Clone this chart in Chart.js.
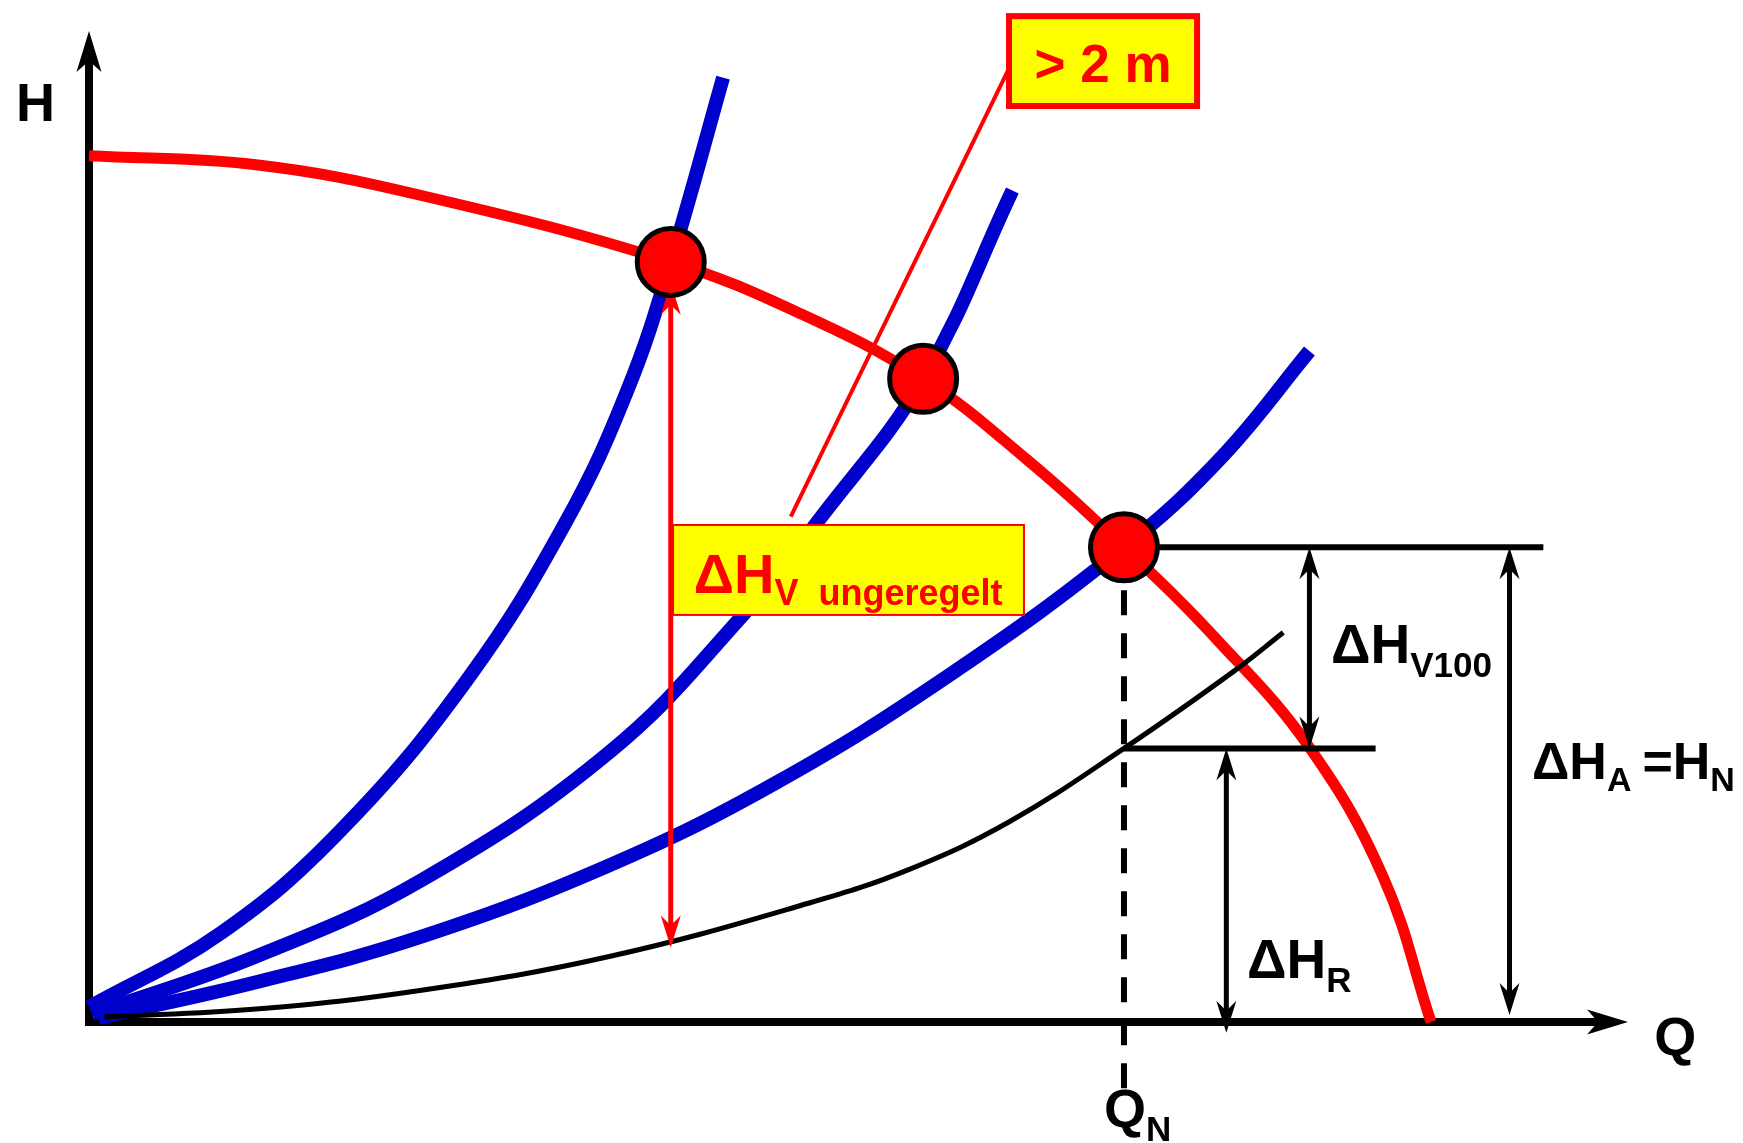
<!DOCTYPE html>
<html lang="de">
<head>
    <meta charset="UTF-8">
    <title>Pumpenkennlinie und Anlagenkennlinien</title>
    <style>
        html, body {
            margin: 0;
            padding: 0;
            background: #ffffff;
        }

        #wrap {
            width: 1743px;
            height: 1143px;
        }
    </style>
</head>
<body>
    <div id="wrap"><canvas id="kennlinien" width="1743" height="1143"></canvas></div>

    <script src="https://cdn.jsdelivr.net/npm/chart.js"></script>
    <script>
        // Pumpenkennlinie H(Q)
        var pumpeQ = [0, 10.85, 21.6, 37.8, 46.2, 54.2, 60.9, 67.25, 73.4, 79.3, 84.1, 87.2];
        var pumpeH = [87.4, 86.5, 83.4, 76.7, 71.5, 64.9, 56.8, 47.9, 38.4, 27.7, 14.6, 0];

        // Anlagenkennlinien (gedrosselt, teilweise gedrosselt, offen)
        var anlage1Q = [0, 8.6, 16.4, 24.6, 31.0, 35.0, 37.8, 41.2];
        var anlage1H = [1.5, 9.0, 19.4, 34.6, 50.5, 63.8, 76.7, 95.3];
        var anlage2Q = [0.2, 10.85, 21.6, 33.8, 42.4, 47.6, 54.2, 60.0];
        var anlage2H = [0.8, 6.6, 14.3, 27.2, 40.9, 51.0, 64.9, 83.9];
        var anlage3Q = [0.6, 10.85, 21.6, 33.8, 44.6, 55.9, 67.25, 73.6, 79.3];
        var anlage3H = [0.4, 4.0, 8.6, 15.8, 24.1, 35.0, 47.9, 57.0, 67.7];

        // Rohrnetzkennlinie ohne Ventil (dünn, schwarz)
        var rohrQ = [1.0, 10.85, 21.6, 33.8, 46.8, 53.3, 59.8, 67.25, 74.4, 77.6];
        var rohrH = [0.5, 1.3, 3.2, 6.6, 12.0, 15.4, 20.2, 27.6, 35.4, 39.3];

        // Betriebspunkte
        var betriebQ = [37.8, 54.2, 67.25];
        var betriebH = [76.7, 64.9, 47.9];

        // Hilfslinien bei Q_N
        var linieObenQ = [67.25, 94.5];
        var linieObenH = [47.9, 47.9];
        var linieUntenQ = [67.25, 83.6];
        var linieUntenH = [27.6, 27.6];
        var qnLinieQ = [67.25, 67.25];
        var qnLinieH = [47.9, -7.9];

        // Maßpfeile ΔH_V100, ΔH_A, ΔH_R
        var massPfeilQ = [79.3, 92.3, 73.9];
        var massPfeilOben = [47.9, 47.9, 27.6];
        var massPfeilUnten = [27.6, 0.7, -1.1];

        // roter Pfeil ΔH_V ungeregelt
        var regelPfeilQ = [37.8];
        var regelPfeilOben = [74.6];
        var regelPfeilUnten = [7.5];

        var ROT = '#ff0000';
        var BLAU = '#0000cc';
        var GELB = '#ffff00';
        var SCHRIFT = '"Liberation Sans", Arial, Helvetica, sans-serif';

        function punkte(qs, hs) {
            return qs.map(function (q, i) { return { x: q, y: hs[i] }; });
        }

        function kurve(qs, hs, farbe, breite, order) {
            return {
                data: punkte(qs, hs),
                borderColor: farbe,
                borderWidth: breite,
                borderCapStyle: 'butt',
                pointRadius: 0,
                tension: 0.4,
                fill: false,
                clip: false,
                order: order
            };
        }

        function gerade(qs, hs, breite, order, strich) {
            return {
                data: punkte(qs, hs),
                borderColor: '#000000',
                borderWidth: breite,
                borderDash: strich || [],
                borderCapStyle: 'butt',
                pointRadius: 0,
                tension: 0,
                fill: false,
                clip: false,
                order: order
            };
        }

        // Pfeilspitze mit eingezogenem Ende; dir = 1 nach unten, -1 nach oben
        function spitze(ctx, x, y, dir, len, halb, kerbe) {
            ctx.beginPath();
            ctx.moveTo(x, y);
            ctx.lineTo(x + halb, y - dir * len);
            ctx.lineTo(x, y - dir * (len - kerbe));
            ctx.lineTo(x - halb, y - dir * len);
            ctx.closePath();
            ctx.fill();
        }

        function doppelPfeil(ctx, x, yOben, yUnten, farbe, breite) {
            ctx.strokeStyle = farbe;
            ctx.fillStyle = farbe;
            ctx.lineWidth = breite;
            ctx.beginPath();
            ctx.moveTo(x, yOben + 20);
            ctx.lineTo(x, yUnten - 20);
            ctx.stroke();
            spitze(ctx, x, yOben, -1, 32, 10, 10);
            spitze(ctx, x, yUnten, 1, 32, 10, 10);
        }

        // Text mit tiefgestellten Teilen: [text, größe, versatz, abstand davor]
        function text(ctx, x, y, teile, farbe) {
            ctx.fillStyle = farbe;
            ctx.textAlign = 'left';
            ctx.textBaseline = 'alphabetic';
            teile.forEach(function (t) {
                x += t[3] || 0;
                ctx.font = 'bold ' + t[1] + 'px ' + SCHRIFT;
                ctx.fillText(t[0], x, y + (t[2] || 0));
                x += ctx.measureText(t[0]).width;
            });
        }

        var achsen = {
            id: 'achsen',
            beforeDatasetsDraw: function (chart) {
                var ctx = chart.ctx;
                var sx = chart.scales.x, sy = chart.scales.y;
                var x0 = sx.getPixelForValue(0), y0 = sy.getPixelForValue(0);
                var xEnd = sx.getPixelForValue(100), yEnd = sy.getPixelForValue(100);
                ctx.save();
                ctx.strokeStyle = '#000';
                ctx.fillStyle = '#000';
                ctx.lineWidth = 8;
                ctx.beginPath();
                ctx.moveTo(x0, y0 + 4);
                ctx.lineTo(x0, yEnd + 30);
                ctx.moveTo(x0 - 4, y0);
                ctx.lineTo(xEnd - 30, y0);
                ctx.stroke();
                // Pfeilspitzen der Achsen
                ctx.beginPath();
                ctx.moveTo(x0, yEnd);
                ctx.lineTo(x0 + 12.5, yEnd + 41);
                ctx.lineTo(x0, yEnd + 30);
                ctx.lineTo(x0 - 12.5, yEnd + 41);
                ctx.closePath();
                ctx.fill();
                ctx.beginPath();
                ctx.moveTo(xEnd, y0);
                ctx.lineTo(xEnd - 41, y0 - 12.5);
                ctx.lineTo(xEnd - 30, y0);
                ctx.lineTo(xEnd - 41, y0 + 12.5);
                ctx.closePath();
                ctx.fill();
                ctx.restore();
            }
        };

        var beschriftung = {
            id: 'beschriftung',
            // unter den Betriebspunkten zeichnen (Datensatz 0 liegt oben)
            beforeDatasetDraw: function (chart, args) {
                if (args.index !== 0) return;
                var ctx = chart.ctx;
                var sx = chart.scales.x, sy = chart.scales.y;
                var X = function (v) { return sx.getPixelForValue(v); };
                var Y = function (v) { return sy.getPixelForValue(v); };
                ctx.save();

                // Maßpfeile
                massPfeilQ.forEach(function (q, i) {
                    doppelPfeil(ctx, X(q), Y(massPfeilOben[i]), Y(massPfeilUnten[i]), '#000', 5);
                });

                // roter Pfeil
                doppelPfeil(ctx, X(regelPfeilQ[0]), Y(regelPfeilOben[0]), Y(regelPfeilUnten[0]), ROT, 5);

                // Hinweislinie zum Kasten "> 2 m" (endet unter dem Kasten)
                ctx.strokeStyle = ROT;
                ctx.lineWidth = 4;
                ctx.beginPath();
                ctx.moveTo(X(45.6), Y(51.0));
                ctx.lineTo(X(60.3), Y(97.9));
                ctx.stroke();

                // Kasten ΔH_V ungeregelt
                var bx = X(37.95), by = Y(50.15), bw = X(60.75) - bx, bh = Y(41.07) - by;
                ctx.fillStyle = GELB;
                ctx.fillRect(bx, by, bw, bh);
                ctx.strokeStyle = ROT;
                ctx.lineWidth = 2;
                ctx.strokeRect(bx, by, bw, bh);
                text(ctx, X(39.3), Y(43.3), [['ΔH', 56], ['V  ungeregelt', 36, 12]], ROT);

                // Kasten "> 2 m"
                var kx = X(59.78), ky = Y(101.5), kw = X(72.0) - kx, kh = Y(92.43) - ky;
                ctx.fillStyle = GELB;
                ctx.fillRect(kx, ky, kw, kh);
                ctx.lineWidth = 6;
                ctx.strokeRect(kx, ky, kw, kh);
                ctx.fillStyle = ROT;
                ctx.font = 'bold 53px ' + SCHRIFT;
                ctx.textAlign = 'center';
                ctx.textBaseline = 'alphabetic';
                ctx.fillText('> 2 m', kx + kw / 2, Y(94.85));

                ctx.restore();
            },
            afterDraw: function (chart) {
                var ctx = chart.ctx;
                var sx = chart.scales.x, sy = chart.scales.y;
                var X = function (v) { return sx.getPixelForValue(v); };
                var Y = function (v) { return sy.getPixelForValue(v); };
                ctx.save();
                text(ctx, X(-4.74), Y(90.9), [['H', 54]], '#000');
                text(ctx, X(101.7), Y(-3.33), [['Q', 54]], '#000');
                text(ctx, X(65.95), Y(-10.6), [['Q', 54], ['N', 35, 14]], '#000');
                text(ctx, X(80.7), Y(36.2), [['ΔH', 55], ['V100', 35, 14]], '#000');
                text(ctx, X(93.76), Y(24.5), [['ΔH', 52], ['A', 34, 12], ['=H', 52, 0, 11], ['N', 34, 12]], '#000');
                text(ctx, X(75.24), Y(4.44), [['ΔH', 55], ['R', 35, 14]], '#000');
                ctx.restore();
            }
        };

        var datasets = [
            {
                data: punkte(betriebQ, betriebH),
                showLine: false,
                pointRadius: 33.5,
                pointHoverRadius: 33.5,
                pointBackgroundColor: ROT,
                pointBorderColor: '#000000',
                pointBorderWidth: 5,
                clip: false,
                order: 0
            },
            kurve(rohrQ, rohrH, '#000000', 5, 1),
            gerade(linieObenQ, linieObenH, 6, 2),
            gerade(linieUntenQ, linieUntenH, 6, 2),
            gerade(qnLinieQ, qnLinieH, 6, 3, [25, 18]),
            kurve(pumpeQ, pumpeH, ROT, 11, 4),
            kurve(anlage1Q, anlage1H, BLAU, 14, 5),
            kurve(anlage2Q, anlage2H, BLAU, 14, 6),
            kurve(anlage3Q, anlage3H, BLAU, 14, 7)
        ];

        new Chart(document.getElementById('kennlinien'), {
            type: 'line',
            data: { datasets: datasets },
            options: {
                responsive: false,
                animation: false,
                events: [],
                layout: {
                    autoPadding: false,
                    padding: { left: 89, right: 115, top: 31, bottom: 22 }
                },
                plugins: {
                    legend: { display: false },
                    tooltip: { enabled: false }
                },
                scales: {
                    x: { type: 'linear', min: 0, max: 100, display: false },
                    y: { type: 'linear', min: -10, max: 100, display: false }
                }
            },
            plugins: [achsen, beschriftung]
        });
    </script>
</body>
</html>
